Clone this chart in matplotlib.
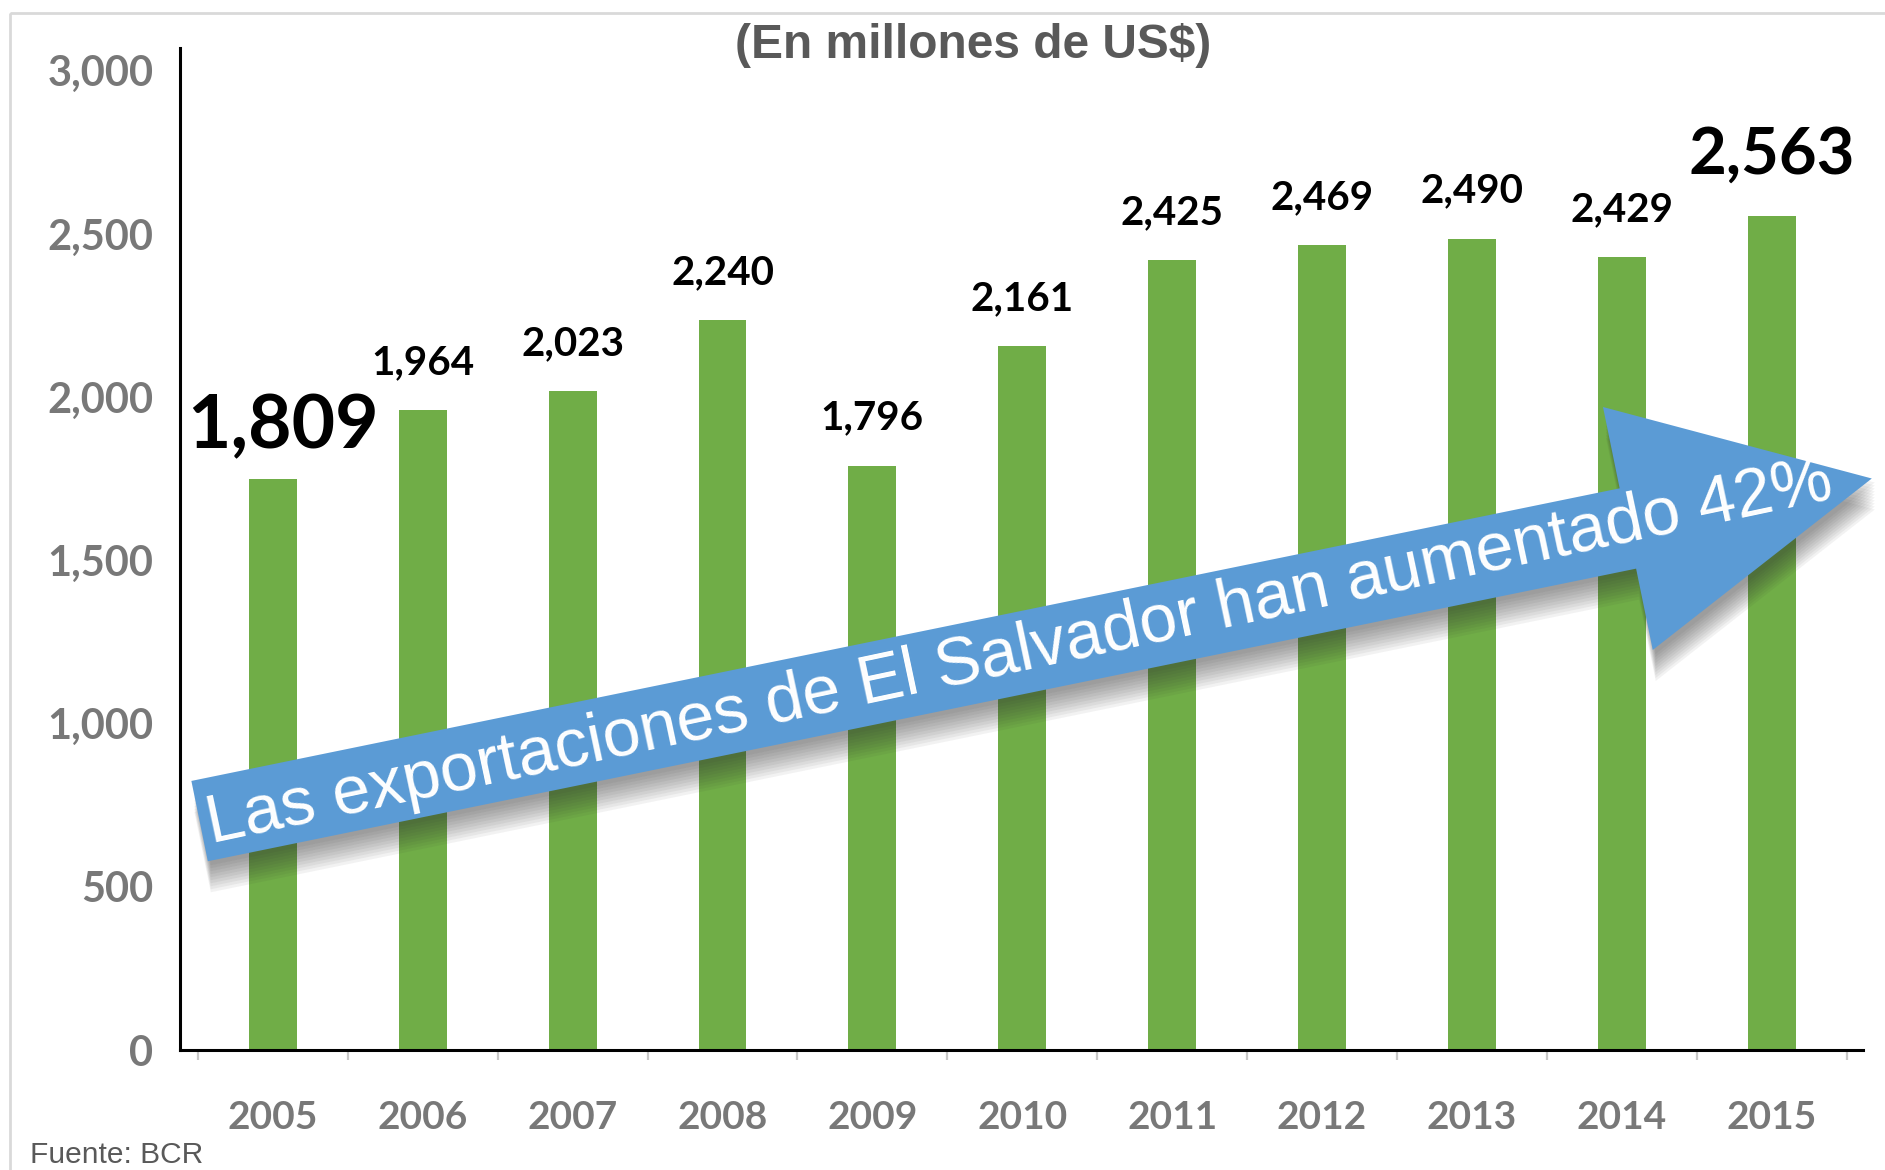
import matplotlib
matplotlib.use("Agg")
import matplotlib.pyplot as plt
import matplotlib.patches as patches
import numpy as np

years = ["2005", "2006", "2007", "2008", "2009", "2010",
         "2011", "2012", "2013", "2014", "2015"]
# valores mostrados en las etiquetas
label_values = [1809, 1964, 2023, 2240, 1796, 2161, 2425, 2469, 2490, 2429, 2563]
# altura de las barras tal como se ven en la imagen
bar_heights = [1750, 1960, 2018, 2236, 1790, 2156, 2420, 2466, 2486, 2429, 2556]
yticks = [0, 500, 1000, 1500, 2000, 2500, 3000]

title = "(En millones de US$)"
arrow_text = "Las exportaciones de El Salvador han aumentado 42%"
source = "Fuente: BCR"

W, H = 1885, 1170
bar_color = "#70ad47"
arrow_color = "#5b9bd5"
gray = "#787878"
dark_gray = "#595959"

# etiquetas destacadas: tamaño, desplazamiento x, desplazamiento y (pt)
big_label_style = {"2005": (54, 7, 22), "2015": (47, 0, 30)}

fig = plt.figure(figsize=(W / 100, H / 100), dpi=100)
fig.patch.set_facecolor("white")

ax = fig.add_axes([180 / W, 120 / H, 1683 / W, 1002 / H])
x = np.arange(len(years))
ax.bar(x, bar_heights, width=0.32, color=bar_color, zorder=2)

ax.set_xlim(-0.62, 10.61)
ax.set_ylim(0, 3070)
for s in ["top", "right"]:
    ax.spines[s].set_visible(False)
for s in ["left", "bottom"]:
    ax.spines[s].set_color("black")
    ax.spines[s].set_linewidth(2.2)

ax.set_yticks(yticks)
ax.set_yticklabels([f"{v:,}" for v in yticks], fontfamily="Lato",
                   fontweight="bold", fontsize=30, color=gray)
ax.tick_params(axis="y", length=0, pad=19)

ax.set_xticks(x)
ax.set_xticklabels(years, fontfamily="Lato", fontweight="bold",
                   fontsize=28, color=gray)
ax.set_xticks(np.arange(-0.5, len(years)), minor=True)
ax.tick_params(axis="x", which="major", length=0, pad=36)
ax.tick_params(axis="x", which="minor", length=7, width=1.6, color="#c8c8c8")

for xi, h, v, yr in zip(x, bar_heights, label_values, years):
    size, ox, oy = big_label_style.get(yr, (29, 0, 26))
    ax.annotate(f"{v:,}", (xi, h), xytext=(ox, oy),
                textcoords="offset points", ha="center", va="baseline",
                fontfamily="Lato", fontweight="bold",
                fontsize=size, color="black", zorder=3)

# capa superior en pixeles para titulo, flecha y marco
ov = fig.add_axes([0, 0, 1, 1], zorder=5)
ov.set_xlim(0, W)
ov.set_ylim(H, 0)
ov.axis("off")
ov.patch.set_alpha(0)

ov.add_patch(patches.Rectangle((10, 13), W + 20, H + 20, fill=False,
                               edgecolor="#d9d9d9", linewidth=2))

ov.text(973, 46, title, ha="center", va="center", fontfamily="Liberation Sans",
        fontweight="bold", fontsize=34.5, color=dark_gray)
ov.text(30, 1163, source, ha="left", va="baseline", fontfamily="Liberation Sans",
        fontsize=21.5, color=dark_gray)

tail = np.array([199.6, 821.1])
tip = np.array([1871.8, 478.5])
dx, dy = tip - tail
for k in range(4, 32, 3):
    shadow = patches.FancyArrow(tail[0] + 3, tail[1] + k, dx, dy, width=82,
                                head_width=248, head_length=249,
                                length_includes_head=True, color="#303030",
                                alpha=0.06, linewidth=0)
    ov.add_patch(shadow)
arrow = patches.FancyArrow(tail[0], tail[1], dx, dy, width=82, head_width=248,
                           head_length=249, length_includes_head=True,
                           color=arrow_color, linewidth=0)
ov.add_patch(arrow)
ov.text(1019, 653, arrow_text, rotation=12, rotation_mode="anchor",
        ha="center", va="center", fontfamily="Liberation Sans",
        fontsize=49, color="white")

fig.savefig("out.png", dpi=100, facecolor="white")
